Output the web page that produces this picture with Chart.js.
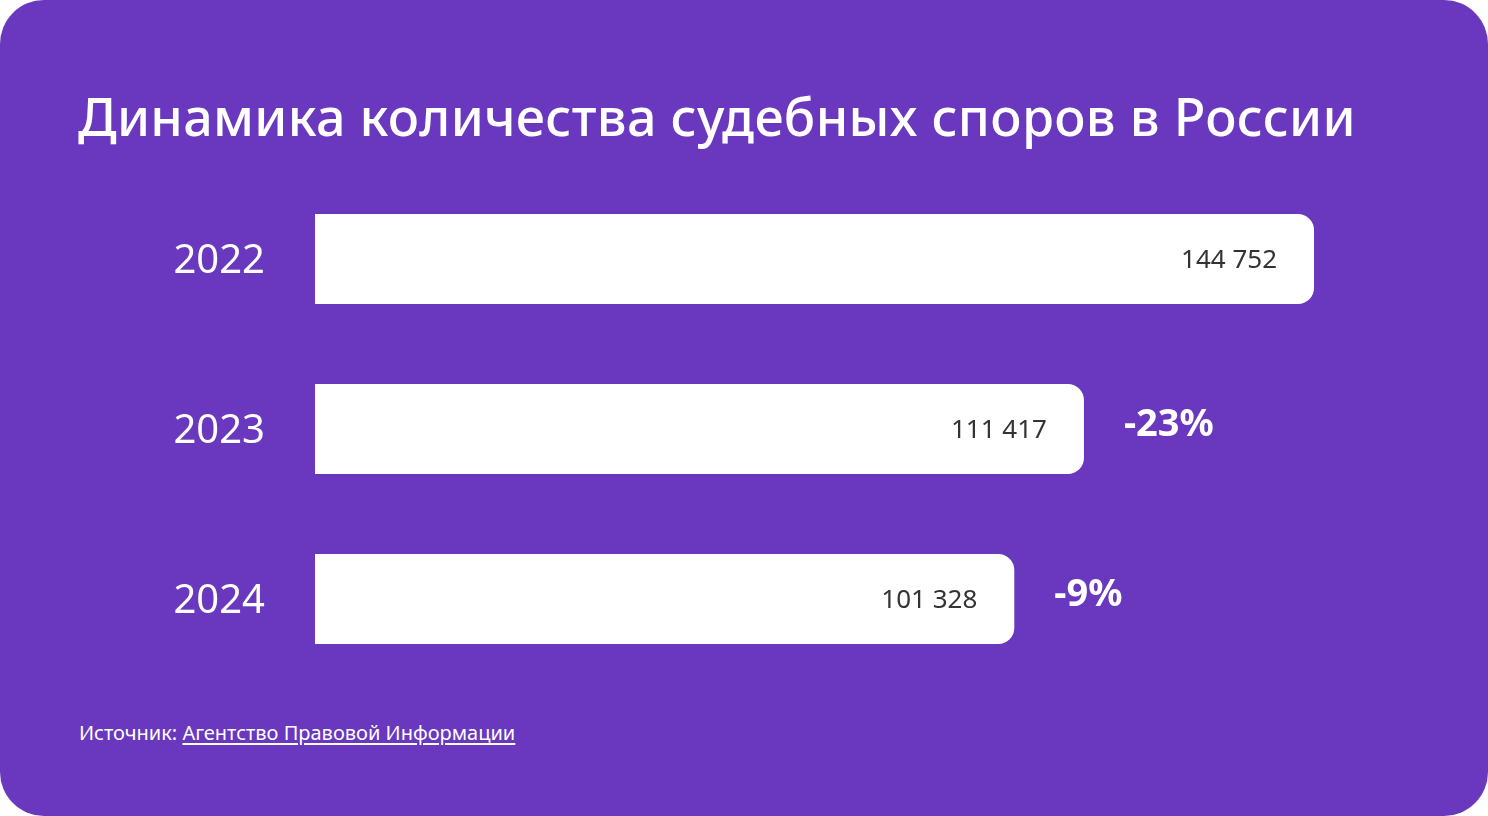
<!DOCTYPE html>
<html><head><meta charset="utf-8">
<script src="https://cdn.jsdelivr.net/npm/chart.js@4"></script>
<style>
html,body{margin:0;padding:0;background:#fff;width:1488px;height:816px;overflow:hidden;font-family:"Noto Sans",sans-serif}
#card{position:absolute;left:0;top:0;width:1488px;height:816px;background:#6938be;border-radius:44px}
#title{position:absolute;left:78px;top:80px;color:#fff;font-size:52px;font-weight:500;letter-spacing:0.3px;white-space:nowrap}
#src{position:absolute;left:79px;top:719px;color:#fff;font-size:20px}
#src u{text-underline-offset:3px}
canvas{position:absolute;left:0;top:0}
</style></head><body>
<div id="card"></div>
<div id="title">Динамика количества судебных споров в России</div>
<div id="src">Источник: <u>Агентство Правовой Информации</u></div>
<canvas id="c" width="1488" height="816"></canvas>
<script>
const years=["2022","2023","2024"];
const counts=[144752,111417,101328];
const valueLabels=["144 752","111 417","101 328"];
const changeLabels=["","-23%","-9%"];
const labelsPlugin={id:"lbl",afterDatasetsDraw(chart){
 const ctx=chart.ctx;const meta=chart.getDatasetMeta(0);
 meta.data.forEach((b,i)=>{
  ctx.save();ctx.textBaseline="middle";
  ctx.fillStyle="#fff";ctx.font="40px 'Noto Sans'";ctx.textAlign="right";
  ctx.fillText(years[i],265,b.y+3);
  ctx.fillStyle="#333";ctx.font="26px 'Noto Sans'";
  ctx.fillText(valueLabels[i],b.x-37,b.y+2);
  if(changeLabels[i]){ctx.fillStyle="#fff";ctx.font="bold 38px 'Noto Sans'";ctx.textAlign="left";
   ctx.fillText(changeLabels[i],b.x+40,b.y-4);}
  ctx.restore();});
}};
new Chart(document.getElementById("c"),{type:"bar",
 data:{labels:years,datasets:[{data:counts,backgroundColor:"#fff",borderRadius:{topRight:16,bottomRight:16,topLeft:0,bottomLeft:0},borderSkipped:false,barPercentage:90/170,categoryPercentage:1}]},
 options:{indexAxis:"y",responsive:false,animation:false,devicePixelRatio:1,
  layout:{padding:{left:315,right:174,top:174,bottom:132}},
  plugins:{legend:{display:false},tooltip:{enabled:false}},
  scales:{x:{display:false,min:0,max:144752},y:{display:false}}},
 plugins:[labelsPlugin]});
</script></body></html>
